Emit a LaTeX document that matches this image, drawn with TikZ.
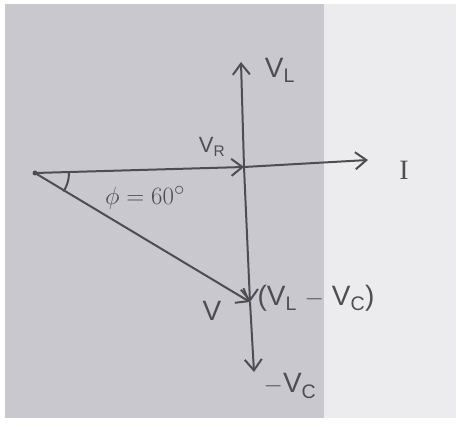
\documentclass[tikz,border=0pt]{standalone}
\usepackage{fontspec}
\setmainfont{Liberation Sans}
\newfontfamily\serifI{Liberation Serif}
\usetikzlibrary{arrows.meta}
\definecolor{ink}{HTML}{4E4E52}
\definecolor{paperdark}{HTML}{C8C8CE}
\definecolor{paperlight}{HTML}{ECECEF}
\begin{document}
\begin{tikzpicture}[x=1pt,y=-1pt,
  vec/.style={draw=ink,line width=2pt,-{Straight Barb[length=11pt,width=17pt,line width=2pt]}},
  lbl/.style={text=ink,font=\fontsize{28}{28}\selectfont,inner sep=1pt},
  lbls/.style={text=ink,font=\fontsize{22}{22}\selectfont,inner sep=1pt}]
\useasboundingbox (0,0) rectangle (461,427);
\fill[white] (0,0) rectangle (461,427);
\fill[paperlight] (5,4) rectangle (456,418);
\fill[paperdark] (5,4) rectangle (324,418);
% points
\coordinate (O) at (35,173);
\coordinate (X) at (244,167);
\coordinate (Itip) at (368,160);
\coordinate (VLtip) at (241,62);
\coordinate (Vtip) at (250,302);
\coordinate (VCtip) at (254,372);
\fill[ink] (O) circle (2.5pt);
\draw[vec] (O) -- (X);
\draw[vec] (X) -- (Itip);
\draw[vec] (X) -- (VLtip);
\draw[vec] (X) -- (Vtip);
\draw[vec] (Vtip) -- (VCtip);
\draw[vec] (O) -- (Vtip);
\draw[ink,line width=2pt] ([xshift=34pt]O) arc[start angle=0,end angle=-33,radius=34pt];
% labels
\node[lbl] (lVL) at (280,70) {V\textsubscript{L}};
\node[lbls] (lVR) at (212,147) {V\textsubscript{R}};
\node[lbl] (lI) at (404,170) {\serifI I};
\node[lbl] (lphi) at (145,198) {$\phi=60^\circ$};
\node[lbl] (lV) at (212,311) {V};
\node[lbl] (lVLC) at (316,298) {(V\textsubscript{L} $-$ V\textsubscript{C})};
\node[lbl] (lVC) at (290,386) {$-$V\textsubscript{C}};
\end{tikzpicture}
\end{document}
